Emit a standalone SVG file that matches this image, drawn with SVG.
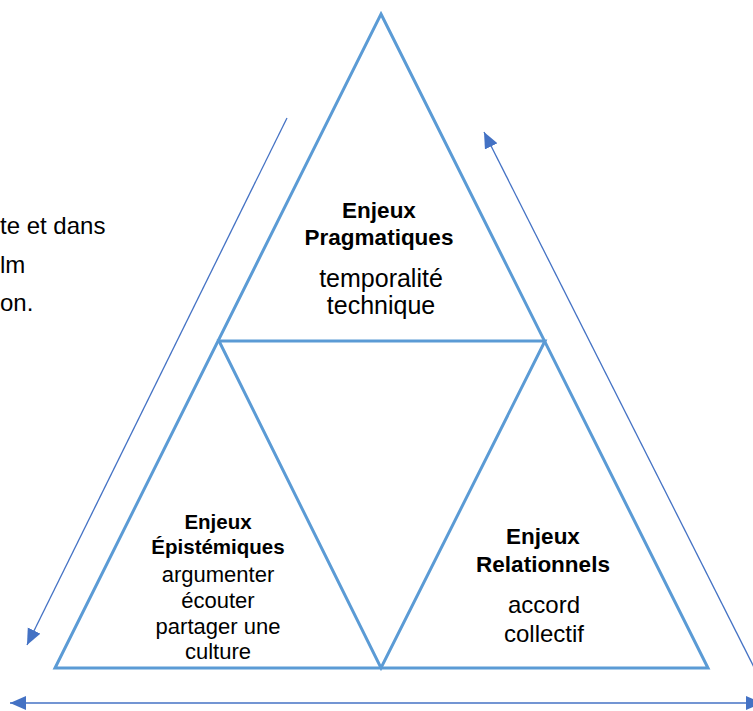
<svg xmlns="http://www.w3.org/2000/svg" width="753" height="711" viewBox="0 0 753 711">
<style>
.tri{fill:none;stroke:#5B9BD5;stroke-width:3;stroke-linejoin:miter}
.arr{fill:none;stroke:#4472C4;stroke-width:1.3}
text{font-family:"Liberation Sans",Arial,sans-serif;fill:#000;text-anchor:middle}
.b{font-weight:bold}
.side{text-anchor:start;font-size:24px}
</style>
<defs>
<marker id="ah" markerUnits="userSpaceOnUse" markerWidth="18" markerHeight="16" refX="16" refY="7" orient="auto">
<path d="M0,0 L16,7 L0,14 Z" fill="#4472C4"/>
</marker>
<marker id="ahs" markerUnits="userSpaceOnUse" markerWidth="18" markerHeight="16" refX="0" refY="7" orient="auto">
<path d="M16,0 L0,7 L16,14 Z" fill="#4472C4"/>
</marker>
</defs>
<rect width="753" height="711" fill="#fff"/>
<g id="side-text">
<text class="side" x="0" y="234">te et dans</text>
<text class="side" x="0" y="273">lm</text>
<text class="side" x="0" y="311">on.</text>
</g>
<g id="connectors">
<line class="arr" x1="287" y1="118" x2="27" y2="645" marker-end="url(#ah)"/>
<line class="arr" x1="770" y1="699" x2="484" y2="132" marker-end="url(#ah)"/>
<line class="arr" x1="10" y1="703" x2="762" y2="703" marker-start="url(#ahs)" marker-end="url(#ah)"/>
</g>
<g id="triangle">
<polygon class="tri" points="381,14 708,668 55,668"/>
<polygon class="tri" points="219,341 545,341 381,668"/>
</g>
<g id="pragmatiques">
<text class="b" x="379" y="218" font-size="22.5">Enjeux</text>
<text class="b" x="379" y="245" font-size="22.5">Pragmatiques</text>
<text x="381" y="287" font-size="25">temporalité</text>
<text x="381" y="314" font-size="25">technique</text>
</g>
<g id="epistemiques">
<text class="b" x="218" y="529" font-size="20.5">Enjeux</text>
<text class="b" x="218" y="554" font-size="20.5">Épistémiques</text>
<text x="218" y="582" font-size="22">argumenter</text>
<text x="218" y="608" font-size="22">écouter</text>
<text x="218" y="634" font-size="22">partager une</text>
<text x="218" y="659" font-size="22">culture</text>
</g>
<g id="relationnels">
<text class="b" x="543" y="544" font-size="22.5">Enjeux</text>
<text class="b" x="543" y="572" font-size="22.5">Relationnels</text>
<text x="544" y="613" font-size="24">accord</text>
<text x="544" y="642" font-size="24">collectif</text>
</g>
</svg>
